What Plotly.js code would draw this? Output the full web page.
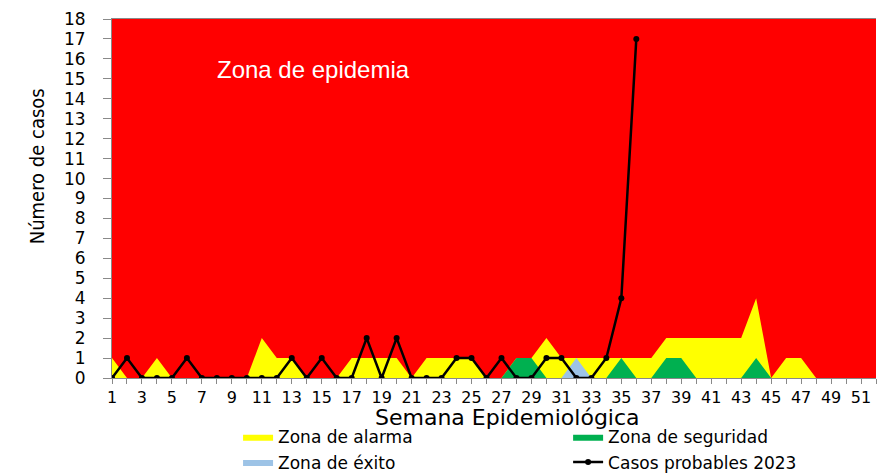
<!DOCTYPE html>
<html>
<head>
<meta charset="utf-8">
<script src="https://cdn.plot.ly/plotly-3.0.1.min.js"></script>
<style>html,body{margin:0;padding:0;background:#fff;}#chart{width:877px;height:475px;}</style>
</head>
<body>
<div id="chart"></div>
<script>
const weeks = [1,2,3,4,5,6,7,8,9,10,11,12,13,14,15,16,17,18,19,20,21,22,23,24,25,26,27,28,29,30,31,32,33,34,35,36,37,38,39,40,41,42,43,44,45,46,47,48,49,50,51,52];
const zonaEpidemia = [18,18,18,18,18,18,18,18,18,18,18,18,18,18,18,18,18,18,18,18,18,18,18,18,18,18,18,18,18,18,18,18,18,18,18,18,18,18,18,18,18,18,18,18,18,18,18,18,18,18,18,18];
const zonaAlarma = [1,0,0,1,0,0,0,0,0,0, 2,1,1,0,0,0,1,1,1,1, 0,1,1,1,1,0,0,1,1,2, 1,1,1,1,1,1,1,2,2,2, 2,2,2,4,0,1,1,0,0,0, 0,0];
const zonaSeguridad = [0,0,0,0,0,0,0,0,0,0, 0,0,0,0,0,0,0,0,0,0, 0,0,0,0,0,0,0,1,1,0, 0,0,0,0,1,0,0,1,1,0, 0,0,0,1,0,0,0,0,0,0, 0,0];
const zonaExito = [0,0,0,0,0,0,0,0,0,0, 0,0,0,0,0,0,0,0,0,0, 0,0,0,0,0,0,0,0,0,0, 0,1,0,0,0,0,0,0,0,0, 0,0,0,0,0,0,0,0,0,0, 0,0];
const casosWeeks = [1,2,3,4,5,6,7,8,9,10,11,12,13,14,15,16,17,18,19,20,21,22,23,24,25,26,27,28,29,30,31,32,33,34,35,36];
const casos2023 = [0,1,0,0,0,1,0,0,0,0, 0,0,1,0,1,0,0,2,0,2, 0,0,0,1,1,0,1,0,0,1, 1,0,0,1,4,17];

const names = {
  epidemia: 'Zona de epidemia',
  alarma: 'Zona de alarma',
  seguridad: 'Zona de seguridad',
  exito: 'Zona de éxito',
  casos: 'Casos probables 2023'
};

function area(y, name, color, show, leg) {
  return {x: weeks, y: y, name: name, type: 'scatter', mode: 'lines', fill: 'tozeroy',
    fillcolor: color, line: {width: 0, color: color}, showlegend: show, legend: leg, hoverinfo: 'skip'};
}

const data = [
  area(zonaEpidemia, names.epidemia, '#FF0000', false, 'legend'),
  area(zonaAlarma, names.alarma, '#FFFF00', true, 'legend'),
  area(zonaSeguridad, names.seguridad, '#00B050', true, 'legend2'),
  area(zonaExito, names.exito, '#9DC3E6', true, 'legend'),
  {x: casosWeeks, y: casos2023, name: names.casos, type: 'scatter', mode: 'lines+markers',
   legend: 'legend2',
   line: {color: '#000000', width: 2.5}, marker: {color: '#000000', size: 6}, hoverinfo: 'skip'}
];

const axisGray = '#898989';
const legendFont = {family: 'DejaVu Sans', size: 17, color: '#000000'};
const layout = {
  width: 877, height: 475,
  margin: {l: 112, r: 1, t: 19, b: 97, autoexpand: false},
  paper_bgcolor: '#ffffff', plot_bgcolor: '#ffffff',
  showlegend: true,
  xaxis: {
    range: [1, 52], tickmode: 'linear', tick0: 1, dtick: 2,
    ticks: 'outside', ticklen: 5, tickcolor: axisGray, tickwidth: 1,
    minor: {tickmode: 'linear', tick0: 1, dtick: 1, ticks: 'outside', ticklen: 5, tickcolor: axisGray},
    showline: true, linecolor: axisGray, linewidth: 1, mirror: true,
    showgrid: false, zeroline: false,
    tickfont: {family: 'DejaVu Sans', size: 16, color: '#000000'},
    ticklabelstandoff: 0
  },
  yaxis: {
    range: [0, 18], tickmode: 'linear', tick0: 0, dtick: 1,
    ticks: 'outside', ticklen: 8, tickcolor: axisGray,
    showline: true, linecolor: axisGray, linewidth: 1,
    showgrid: false, zeroline: false,
    tickfont: {family: 'DejaVu Sans', size: 17, color: '#000000'},
    ticklabelstandoff: 14
  },
  legend: {
    orientation: 'v', x: 0.165, xanchor: 'left', y: -0.115, yanchor: 'top',
    bgcolor: 'rgba(0,0,0,0)', font: legendFont, traceorder: 'normal'
  },
  legend2: {
    orientation: 'v', x: 0.597, xanchor: 'left', y: -0.115, yanchor: 'top',
    bgcolor: 'rgba(0,0,0,0)', font: legendFont, traceorder: 'normal'
  },
  annotations: [
    {text: 'Zona de epidemia', xref: 'paper', yref: 'paper', x: 0.135, y: 0.858,
     xanchor: 'left', yanchor: 'middle', showarrow: false,
     font: {family: 'Liberation Sans, Arial, sans-serif', size: 24, color: '#ffffff'}},
    {text: 'Número de casos', xref: 'paper', yref: 'paper', x: -0.098, y: 0.59,
     xanchor: 'center', yanchor: 'middle', textangle: -90, showarrow: false,
     font: {family: 'DejaVu Sans Condensed, sans-serif', size: 20, color: '#000000'}},
    {text: 'Semana Epidemiológica', xref: 'paper', yref: 'paper', x: 0.518, y: -0.109,
     xanchor: 'center', yanchor: 'middle', showarrow: false,
     font: {family: 'DejaVu Sans', size: 22, color: '#000000'}}
  ]
};

Plotly.newPlot('chart', data, layout, {displayModeBar: false, staticPlot: true});
</script>
</body>
</html>
